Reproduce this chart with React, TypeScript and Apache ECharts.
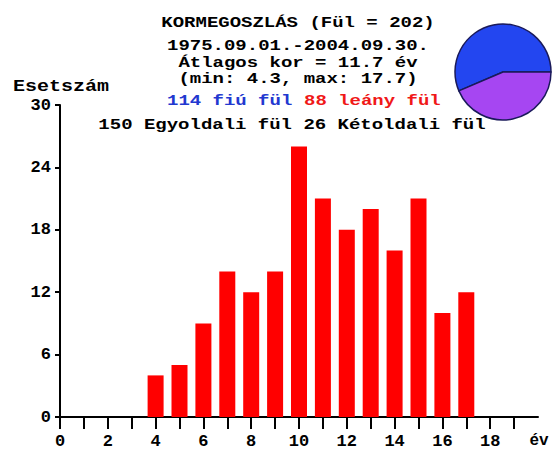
import React, { useEffect, useRef } from "react";
import * as echarts from "echarts";

const ages = [4, 5, 6, 7, 8, 9, 10, 11, 12, 13, 14, 15, 16, 17];
const counts = [4, 5, 9, 14, 12, 14, 26, 21, 18, 20, 16, 21, 10, 12];
const xTicks = [0, 1, 2, 3, 4, 5, 6, 7, 8, 9, 10, 11, 12, 13, 14, 15, 16, 17, 18, 19];
const xLabels = [0, 2, 4, 6, 8, 10, 12, 14, 16, 18];
const pieNames = ["fiú", "leány"];
const pieValues = [114, 88];
const titleLines = [
  "KORMEGOSZLÁS (Fül = 202)",
  "1975.09.01.-2004.09.30.",
  "Átlagos kor = 11.7 év",
  "(min: 4.3, max: 17.7)",
];
const sexText = ["114 fiú fül", "88 leány fül"];
const sideText = "150 Egyoldali fül 26 Kétoldali fül";

const MONO = '"Liberation Mono", "Courier New", monospace';

export default function App() {
  const ref = useRef<HTMLDivElement>(null);
  useEffect(() => {
    if (!ref.current) return;
    const chart = echarts.init(ref.current, null, { renderer: "svg" });
    const t = (
      text: string,
      x: number,
      y: number,
      size: number,
      fill = "#000",
      align = "center",
      sy = 0.8
    ) => ({
      type: "text",
      x,
      y,
      scaleY: sy,
      style: {
        text,
        fill,
        fontFamily: MONO,
        fontWeight: "bold",
        fontSize: size,
        lineHeight: size,
        textAlign: align,
        textVerticalAlign: "middle",
        verticalAlign: "middle",
      },
    });
    const titleY = [23, 46, 63, 79];
    chart.setOption({
      animation: false,
      backgroundColor: "#fff",
      grid: { left: 60, right: 16, top: 105, bottom: 31 },
      xAxis: {
        type: "value",
        min: 0,
        max: 20,
        interval: 1,
        splitLine: { show: false },
        axisLine: { show: true, lineStyle: { color: "#000", width: 2 } },
        axisTick: { show: true, length: 12, customValues: xTicks, lineStyle: { color: "#000", width: 2 } },
        axisLabel: {
          customValues: xLabels,
          margin: 16,
          color: "#000",
          fontFamily: MONO,
          fontWeight: "bold",
          fontSize: 17,
        },
      },
      yAxis: {
        type: "value",
        min: 0,
        max: 30,
        interval: 6,
        splitLine: { show: false },
        axisLine: { show: true, lineStyle: { color: "#000", width: 2 } },
        axisTick: { show: true, length: 5, lineStyle: { color: "#000", width: 2 } },
        axisLabel: {
          margin: 9,
          color: "#000",
          fontFamily: MONO,
          fontWeight: "bold",
          fontSize: 17,
        },
      },
      series: [
        {
          type: "bar",
          data: ages.map((a, i) => [a, counts[i]]),
          barWidth: 16,
          itemStyle: { color: "#ff0000" },
        },
        {
          type: "pie",
          center: [503, 72],
          radius: 48,
          startAngle: 0,
          clockwise: false,
          label: { show: false },
          labelLine: { show: false },
          emphasis: { disabled: true },
          itemStyle: { borderColor: "#1a1a5a", borderWidth: 1.5 },
          data: pieNames.map((n, i) => ({
            name: n,
            value: pieValues[i],
            itemStyle: { color: i === 0 ? "#2346f0" : "#a646f2" },
          })),
        },
      ],
      graphic: [
        ...titleLines.map((s, i) => t(s, 298, titleY[i], 19)),
        t(sexText[0], 167, 101, 19, "#2238d0", "left"),
        t(sexText[1], 304, 101, 19, "#f01818", "left"),
        t(sideText, 292, 125, 19),
        t("Esetszám", 13, 87, 20, "#000", "left"),
        t("év", 539, 441, 16, "#000", "center", 1),
      ],
    });
    return () => chart.dispose();
  }, []);
  return (
    <div
      ref={ref}
      style={{ position: "fixed", left: 0, top: 0, width: 554, height: 450, background: "#fff" }}
    />
  );
}
